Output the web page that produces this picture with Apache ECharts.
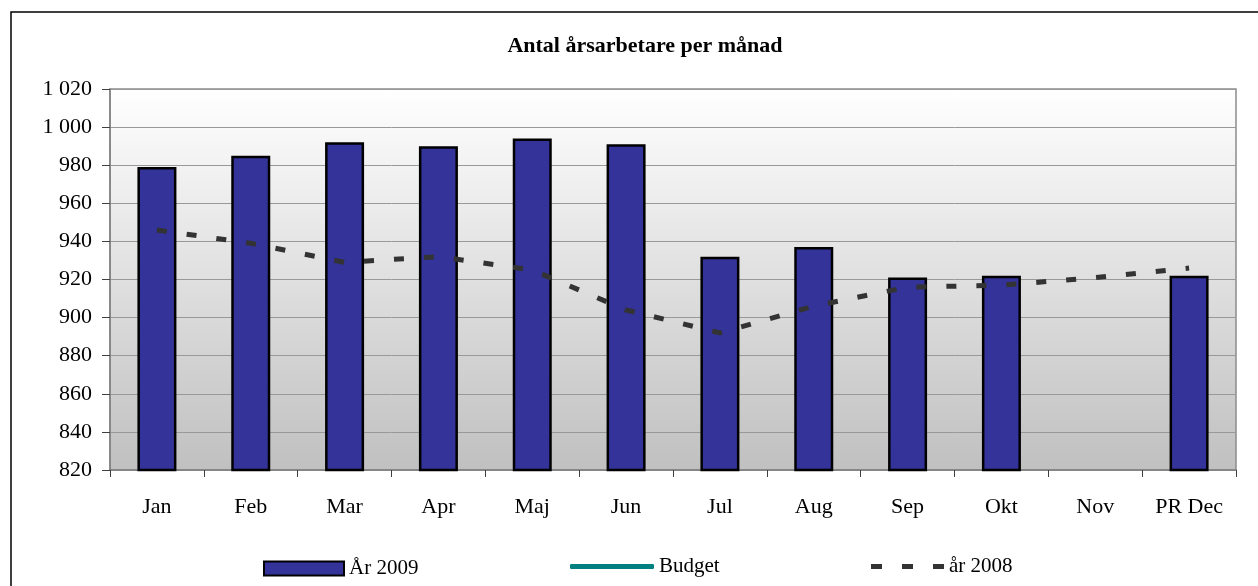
<!DOCTYPE html>
<html>
<head>
<meta charset="utf-8">
<script src="https://cdn.jsdelivr.net/npm/echarts@6/dist/echarts.min.js"></script>
<style>
html,body{margin:0;padding:0;background:#fff;}
#c{width:1258px;height:586px;}
</style>
</head>
<body>
<div id="c"></div>
<script>
var categories = ['Jan','Feb','Mar','Apr','Maj','Jun','Jul','Aug','Sep','Okt','Nov','PR Dec'];
var ar2009 = [979, 985, 992, 990, 994, 991, 932, 937, 921, 922, null, 922];
var budget = [];
var ar2008 = [946, 939, 929, 932, 925, 904, 892, 906, 916, 917, 921, 926];
var yTicks = {min: 820, max: 1020, interval: 20};

var FONT = '"Liberation Serif", "Times New Roman", serif';
var chart = echarts.init(document.getElementById('c'), null, {renderer: 'canvas'});
var legendText = {fontFamily: FONT, fontSize: 21, color: '#000'};
chart.setOption({
  animation: false,
  title: {
    text: 'Antal årsarbetare per månad',
    left: 640, top: 30, textAlign: 'center',
    textStyle: {fontFamily: FONT, fontSize: 22, fontWeight: 'bold', color: '#000'}
  },
  graphic: [{
    type: 'rect', shape: {x: 11, y: 12, width: 1300, height: 700},
    style: {fill: 'none', stroke: '#000', lineWidth: 1.5}, z: -10
  }],
  grid: {
    left: 110, top: 89, right: 22, bottom: 116,
    show: true,
    borderColor: '#8c8c8c', borderWidth: 1.5,
    backgroundColor: new echarts.graphic.LinearGradient(0, 0, 0, 1, [
      {offset: 0, color: '#ffffff'},
      {offset: 1, color: '#c0c0c0'}
    ])
  },
  legend: [
    {data: ['År 2009'], left: 263, top: 558, padding: 0, itemWidth: 80, itemHeight: 14, itemGap: 6,
     icon: 'rect', textStyle: legendText, selectedMode: false},
    {data: ['Budget'], left: 570, top: 556, padding: 0, itemWidth: 84, itemHeight: 5, itemGap: 2,
     icon: 'roundRect', itemStyle: {color: '#008080'}, textStyle: legendText, selectedMode: false},
    {data: ['år 2008'], left: 871, top: 556, padding: 0, itemWidth: 73, itemHeight: 5, itemGap: 12,
     icon: 'path://M0,0h11v5h-11z M31,0h11v5h-11z M62,0h11v5h-11z',
     itemStyle: {color: '#333333'}, textStyle: legendText, selectedMode: false}
  ],
  xAxis: {
    type: 'category', data: categories, boundaryGap: true,
    axisLine: {lineStyle: {color: '#808080', width: 1.5}},
    axisTick: {show: true, length: 7, alignWithLabel: false, lineStyle: {color: '#404040'}},
    axisLabel: {fontFamily: FONT, fontSize: 22, color: '#000', margin: 26}
  },
  yAxis: {
    type: 'value', min: yTicks.min, max: yTicks.max, interval: yTicks.interval,
    axisLine: {show: true, lineStyle: {color: '#808080', width: 1.5}},
    axisTick: {show: true, length: 8, lineStyle: {color: '#404040'}},
    splitLine: {lineStyle: {color: '#999999', width: 1}},
    axisLabel: {
      fontFamily: FONT, fontSize: 22, color: '#000', margin: 18,
      formatter: function (v) {
        return String(v).replace(/\B(?=(\d{3})+(?!\d))/g, ' ');
      }
    }
  },
  series: [
    {
      name: 'År 2009', type: 'bar', data: ar2009, barWidth: 39,
      itemStyle: {color: '#333399', borderColor: '#000', borderWidth: 2.5}
    },
    {
      name: 'Budget', type: 'line', data: budget, symbol: 'none',
      itemStyle: {color: '#008080'},
      lineStyle: {color: '#008080', width: 5, cap: 'round'}
    },
    {
      name: 'år 2008', type: 'line', data: ar2008, symbol: 'none',
      itemStyle: {color: '#333333'},
      lineStyle: {color: '#333333', width: 5, type: [10, 20]}
    }
  ]
});
</script>
</body>
</html>
